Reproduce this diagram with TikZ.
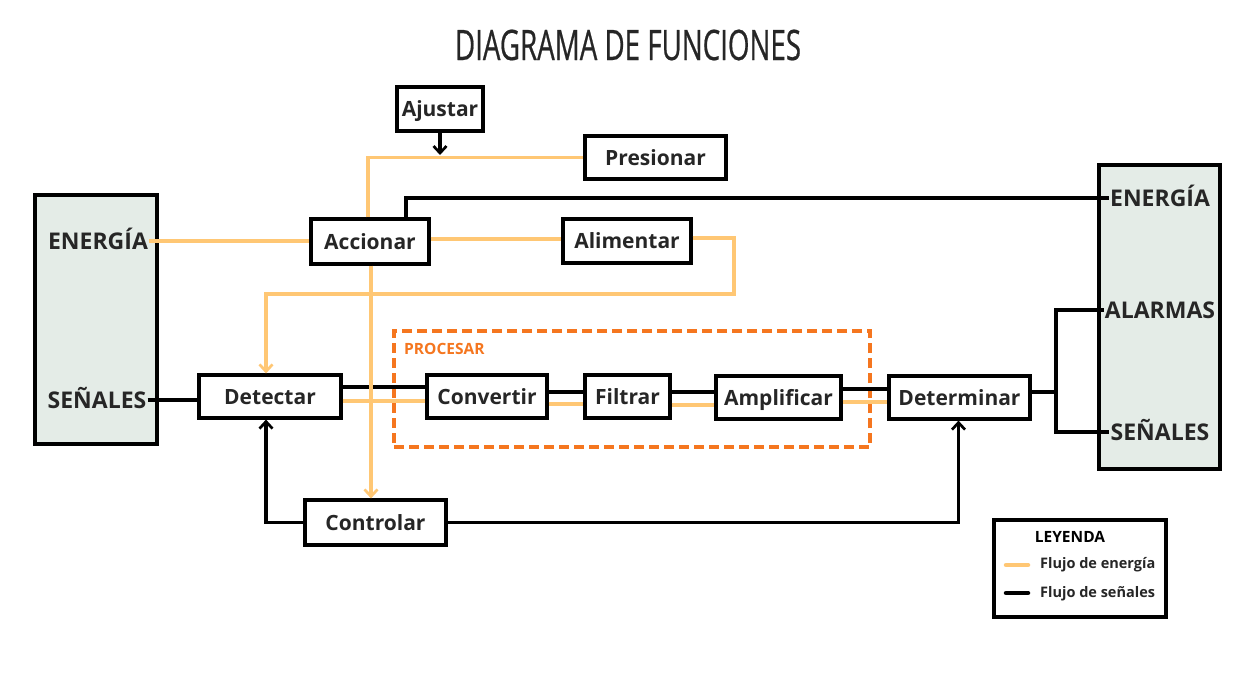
\documentclass[tikz,border=0pt]{standalone}
\usepackage{fontspec}
\setmainfont{Open Sans}
\newfontfamily\titlefont[FakeStretch=0.66,FakeBold=0.5]{Open Sans}
\usetikzlibrary{arrows.meta,calc}
\definecolor{energy}{HTML}{FFC774}
\definecolor{proc}{HTML}{F5761F}
\definecolor{panel}{HTML}{E4ECE7}
\definecolor{txt}{HTML}{262626}
\begin{document}
\begin{tikzpicture}[x=1pt,y=-1pt,
  fbox/.style={draw=black, line width=3.2pt, fill=white, text=txt, inner sep=0pt,
    text height=15pt, text depth=0pt, font=\fontsize{21}{25}\bfseries\selectfont},
  panelbox/.style={draw=black, line width=3.2pt, fill=panel, inner sep=0pt},
  plabel/.style={text=txt, inner sep=1pt, text height=16pt, text depth=0pt,
    font=\fontsize{23}{27}\bfseries\selectfont},
  en/.style={draw=energy, line width=3.2pt},
  sig/.style={draw=black, line width=3.2pt},
  tip/.style={-{Straight Barb[length=7pt,width=13pt,line width=2.7pt]}},
  legtext/.style={anchor=west, text=txt, inner sep=0pt, font=\fontsize{14.5}{17}\bfseries\selectfont},
]
\useasboundingbox (0,0) rectangle (1256,678);
\fill[white] (0,0) rectangle (1256,678);

% title
\node[text=txt, font=\titlefont\fontsize{42}{50}\selectfont, text height=30pt, text depth=0pt, inner sep=0pt] (title) at (628,45) {DIAGRAMA DE FUNCIONES};

% panels
\node[panelbox, minimum width=122pt, minimum height=249pt] (lp) at (96,319.5) {};
\node[panelbox, minimum width=121pt, minimum height=304pt] (rp) at (1159.5,317) {};
\node[plabel] (lE) at (98,241) {ENERGÍA};
\node[plabel] (lS) at (97,400) {SEÑALES};
\node[plabel] (rE) at (1160,198) {ENERGÍA};
\node[plabel] (rA) at (1160,310) {ALARMAS};
\node[plabel] (rS) at (1160,432) {SEÑALES};

% processing group
\node[draw=proc, line width=3.2pt, dash pattern=on 10pt off 5pt, minimum width=476pt, minimum height=116pt, inner sep=0pt] (procbox) at (632,389) {};
\node[anchor=west, text=proc, inner sep=0pt, font=\fontsize{15.5}{18}\bfseries\selectfont] (proclbl) at (404,349) {PROCESAR};

% function boxes
\node[fbox, minimum width=86pt, minimum height=44pt] (aju) at (440,109) {Ajustar};
\node[fbox, minimum width=141pt, minimum height=43pt] (pres) at (655.5,157.5) {Presionar};
\node[fbox, minimum width=118pt, minimum height=45pt] (acc) at (370,241.5) {Accionar};
\node[fbox, minimum width=128pt, minimum height=44pt] (ali) at (627,241) {Alimentar};
\node[fbox, minimum width=142pt, minimum height=43pt] (det) at (270,396.5) {Detectar};
\node[fbox, minimum width=120pt, minimum height=43pt] (cnv) at (487,396.5) {Convertir};
\node[fbox, minimum width=85pt, minimum height=43pt] (fil) at (627.5,396.5) {Filtrar};
\node[fbox, minimum width=125pt, minimum height=43pt] (amp) at (778.5,397.5) {Amplificar};
\node[fbox, minimum width=141pt, minimum height=43pt] (dtm) at (959.5,397.5) {Determinar};
\node[fbox, minimum width=141pt, minimum height=45pt] (con) at (375.5,522.5) {Controlar};

% helper coordinates
\coordinate (ajt) at (440,155);
\coordinate (c1) at (734,294);
\coordinate (br) at (1056,392);

% energy flows
\draw[en] (lE.east) -- (lE.east -| acc.west);
\draw[en] ([xshift=-2pt]acc.north) |- (pres.west);
\draw[en] ([yshift=2.5pt]acc.east) -- ([yshift=2.5pt]acc.east -| ali.west);
\draw[en, tip] ([yshift=3pt]ali.east) -| (c1) -| ([xshift=-4pt]det.north);
\draw[en] ([yshift=-4.5pt]det.east) -- ([yshift=-4.5pt]det.east -| cnv.west);
\draw[en] ([yshift=-7.5pt]cnv.east) -- ([yshift=-7.5pt]cnv.east -| fil.west);
\draw[en] ([yshift=-8.5pt]fil.east) -- ([yshift=-8.5pt]fil.east -| amp.west);
\draw[en] ([yshift=-4.5pt]amp.east) -- ([yshift=-4.5pt]amp.east -| dtm.west);

% signal flows
\draw[sig, tip] (aju.south) -- (ajt);
\draw[sig] ([xshift=36pt]acc.north) |- (rE.west);
\draw[sig] (lS.east) -- (lS.east -| det.west);
\draw[sig] ([yshift=9.5pt]det.east) -- ([yshift=9.5pt]det.east -| cnv.west);
\draw[sig] ([yshift=4.5pt]cnv.east) -- ([yshift=4.5pt]cnv.east -| fil.west);
\draw[sig] ([yshift=4.5pt]fil.east) -- ([yshift=4.5pt]fil.east -| amp.west);
\draw[sig] ([yshift=8.5pt]amp.east) -- ([yshift=8.5pt]amp.east -| dtm.west);
\draw[sig] ([yshift=5.5pt]dtm.east) -- (br);
\draw[sig] (rA.west) -| (br) |- (rS.west);
\draw[sig, tip] (con.west) -| ([xshift=-4pt]det.south);
\draw[sig, tip] (con.east) -| ([xshift=-1pt]dtm.south);

% energy line to Controlar (drawn on top)
\draw[en, tip] ([xshift=1pt]acc.south) -- ([xshift=1pt]acc.south |- con.north);

% legend
\node[draw=black, line width=3.2pt, fill=white, minimum width=172pt, minimum height=97pt, inner sep=0pt] (leg) at (1080,568.5) {};
\node[text=black, inner sep=0pt, font=\fontsize{15.5}{18}\bfseries\selectfont] (legT) at (1070,537) {LEYENDA};
\coordinate (le1) at (1006,565);
\coordinate (le2) at (1028,565);
\coordinate (ls1) at (1006,593);
\coordinate (ls2) at (1028,593);
\draw[draw=energy, line width=4.5pt, line cap=round] (le1) -- (le2);
\draw[draw=black, line width=4.5pt, line cap=round] (ls1) -- (ls2);
\node[legtext] (legE) at (1040,565) {Flujo de energía};
\node[legtext] (legS) at (1040,594) {Flujo de señales};
\end{tikzpicture}
\end{document}
